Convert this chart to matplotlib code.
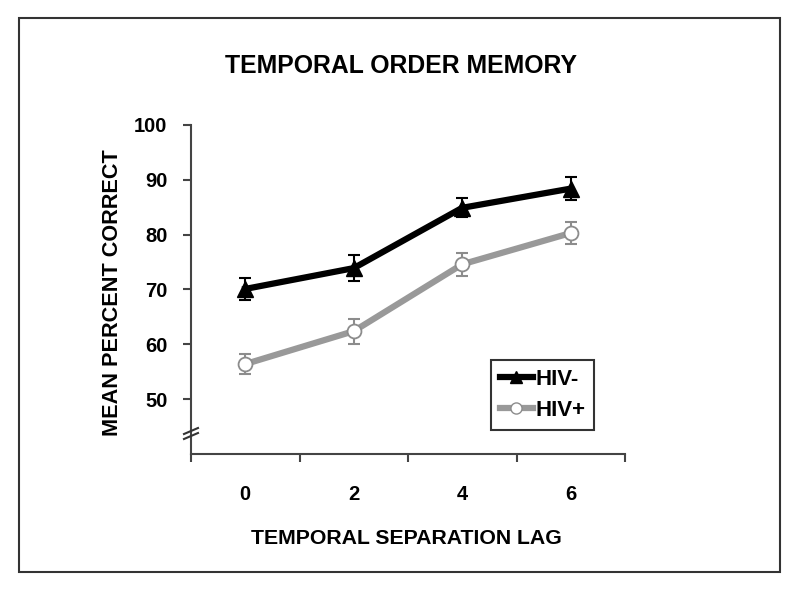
import matplotlib
matplotlib.use("Agg")
import matplotlib.pyplot as plt
from matplotlib.lines import Line2D
from matplotlib.patches import Rectangle

plt.rcParams['font.family'] = ['Liberation Sans', 'DejaVu Sans']
plt.rcParams['font.weight'] = 'bold'

lags = ["0", "2", "4", "6"]
hiv_neg = [70.1, 73.9, 84.9, 88.4]
hiv_neg_err = [2.0, 2.4, 1.7, 2.1]
hiv_pos = [56.4, 62.4, 74.6, 80.3]
hiv_pos_err = [1.8, 2.3, 2.1, 2.0]
yticks = [50, 60, 70, 80, 90, 100]

W, H = 800, 592
fig = plt.figure(figsize=(8, 5.92), dpi=100)

def fx(px):
    return px / W

def fy(py):
    return 1 - py / H

# outer frame
fig.patches.append(Rectangle((fx(19), fy(572)), fx(780) - fx(19), fy(18) - fy(572),
                             transform=fig.transFigure, fill=False,
                             edgecolor='#333333', linewidth=1.5))

ax = fig.add_axes([fx(191), fy(454), fx(625) - fx(191), fy(125) - fy(454)])
x = list(range(len(lags)))

ax.errorbar(x, hiv_pos, yerr=hiv_pos_err, fmt='none', ecolor='#8c8c8c',
            elinewidth=1.5, capsize=4, capthick=1.5, zorder=2)
ax.plot(x, hiv_pos, color='#999999', linewidth=4.5, marker='o', markersize=10,
        markerfacecolor='white', markeredgecolor='#8c8c8c', markeredgewidth=1.3,
        label='HIV+', zorder=3)
ax.errorbar(x, hiv_neg, yerr=hiv_neg_err, fmt='none', ecolor='black',
            elinewidth=1.5, capsize=4, capthick=1.5, zorder=4)
ax.plot(x, hiv_neg, color='black', linewidth=4.5, marker='^', markersize=11,
        markerfacecolor='black', markeredgecolor='black', label='HIV-', zorder=5)

ax.set_xlim(-0.5, len(lags) - 0.5)
ax.set_ylim(40, 100)
ax.set_yticks(yticks)
ax.set_yticklabels([str(v) for v in yticks])
ax.set_xticks(x)
ax.set_xticklabels(lags)
ax.set_xticks([i - 0.5 for i in range(len(lags) + 1)], minor=True)
ax.tick_params(axis='x', which='major', length=0, pad=22, labelsize=14.5)
ax.tick_params(axis='x', which='minor', length=6, width=1.5, color='#444444')
ax.tick_params(axis='y', which='major', length=6, width=1.5, color='#444444',
               pad=11, labelsize=14.5)
for lab in ax.get_xticklabels() + ax.get_yticklabels():
    lab.set_fontweight('bold')

for s in ['top', 'right']:
    ax.spines[s].set_visible(False)
for s in ['left', 'bottom']:
    ax.spines[s].set_color('#444444')
    ax.spines[s].set_linewidth(1.5)

# axis break marks
for dy in (0, 5):
    fig.add_artist(Line2D([fx(184), fx(198)], [fy(431 + dy + 3), fy(431 + dy - 3)],
                          transform=fig.transFigure, color='#333333', linewidth=1.5))

handles = [Line2D([], [], color='black', linewidth=4.5, marker='^', markersize=8),
           Line2D([], [], color='#999999', linewidth=4.5, marker='o', markersize=8,
                  markerfacecolor='white', markeredgecolor='#8c8c8c')]
leg = ax.legend(handles, ['HIV-', 'HIV+'], loc='lower left',
                bbox_to_anchor=(0.691, 0.073), frameon=True, fancybox=False,
                edgecolor='black', handlelength=1.5, handletextpad=0.1,
                borderpad=0.4, labelspacing=0.45, borderaxespad=0,
                prop={'weight': 'bold', 'size': 16})
leg.get_frame().set_linewidth(1.5)

fig.text(fx(401), fy(66), 'TEMPORAL ORDER MEMORY', ha='center', va='center',
         fontsize=17.8, fontweight='bold')
fig.text(fx(406), fy(539), 'TEMPORAL SEPARATION LAG', ha='center', va='center',
         fontsize=15.3, fontweight='bold')
fig.text(fx(113), fy(293), 'MEAN PERCENT CORRECT', ha='center', va='center',
         rotation=90, fontsize=15.6, fontweight='bold')

fig.savefig('out.png', dpi=100)
